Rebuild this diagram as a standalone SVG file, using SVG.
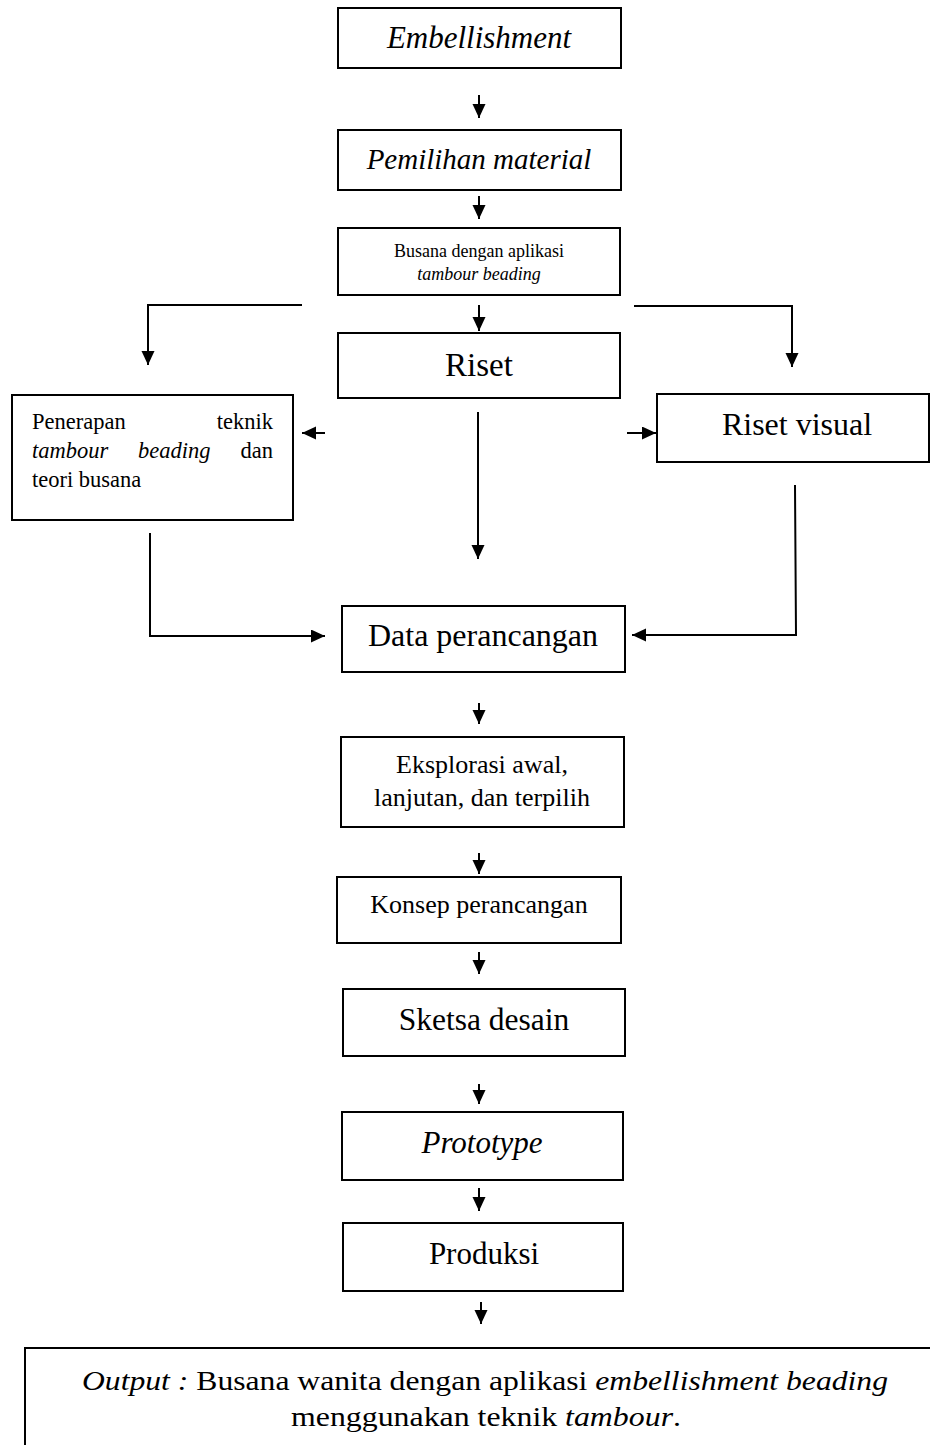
<svg xmlns="http://www.w3.org/2000/svg" width="930" height="1445" viewBox="0 0 930 1445">
<defs>
<style>
.box{fill:#fff;stroke:#000;stroke-width:2}
.t{font-family:"Liberation Serif","Times New Roman",serif;fill:#000}
.i{font-style:italic}
.c{stroke:#000;stroke-width:2;fill:none}
</style>
<marker id="ah" markerUnits="userSpaceOnUse" markerWidth="16" markerHeight="14" refX="14" refY="6.5" orient="auto">
<path d="M0,0 L14,6.5 L0,13 Z" fill="#000"/>
</marker>
</defs>
<rect width="930" height="1445" fill="#fff"/>
<g id="n-embellishment"><rect class="box" x="338" y="8" width="283" height="60"/><text class="t i" x="479" y="48" font-size="31" text-anchor="middle">Embellishment</text></g>
<g id="n-pemilihan"><rect class="box" x="338" y="130" width="283" height="60"/><text class="t i" x="479" y="169" font-size="29" text-anchor="middle">Pemilihan material</text></g>
<g id="n-busana"><rect class="box" x="338" y="228" width="282" height="67"/><text class="t" x="479" y="257" font-size="18" text-anchor="middle">Busana dengan aplikasi</text><text class="t i" x="479" y="280" font-size="18" text-anchor="middle">tambour beading</text></g>
<g id="n-riset"><rect class="box" x="338" y="333" width="282" height="65"/><text class="t" x="479" y="376" font-size="33" text-anchor="middle">Riset</text></g>
<g id="n-penerapan"><rect class="box" x="12" y="395" width="281" height="125"/>
<text class="t" font-size="22.5" y="429"><tspan x="32">Penerapan</tspan><tspan x="273" text-anchor="end">teknik</tspan></text>
<text class="t" font-size="22.5" y="458"><tspan class="i" x="32">tambour</tspan><tspan class="i" x="138">beading</tspan><tspan x="273" text-anchor="end">dan</tspan></text>
<text class="t" font-size="22.5" x="32" y="487">teori busana</text></g>
<g id="n-riset-visual"><rect class="box" x="657" y="394" width="272" height="68"/><text class="t" x="797" y="435" font-size="32" text-anchor="middle">Riset visual</text></g>
<g id="n-data"><rect class="box" x="342" y="606" width="283" height="66"/><text class="t" x="483" y="646" font-size="32" text-anchor="middle">Data perancangan</text></g>
<g id="n-eksplorasi"><rect class="box" x="341" y="737" width="283" height="90"/><text class="t" x="482" y="773" font-size="26" text-anchor="middle">Eksplorasi awal,</text><text class="t" x="482" y="806" font-size="26" text-anchor="middle">lanjutan, dan terpilih</text></g>
<g id="n-konsep"><rect class="box" x="337" y="877" width="284" height="66"/><text class="t" x="479" y="913" font-size="26" text-anchor="middle">Konsep perancangan</text></g>
<g id="n-sketsa"><rect class="box" x="343" y="989" width="282" height="67"/><text class="t" x="484" y="1030" font-size="31.5" text-anchor="middle">Sketsa desain</text></g>
<g id="n-prototype"><rect class="box" x="342" y="1112" width="281" height="68"/><text class="t i" x="482" y="1153" font-size="31" text-anchor="middle">Prototype</text></g>
<g id="n-produksi"><rect class="box" x="343" y="1223" width="280" height="68"/><text class="t" x="484" y="1264" font-size="31" text-anchor="middle">Produksi</text></g>
<g id="n-output"><rect class="box" x="25" y="1348" width="920" height="120"/>
<text class="t" font-size="28" x="82" y="1390" textLength="806" lengthAdjust="spacingAndGlyphs"><tspan class="i">Output :</tspan> Busana wanita dengan aplikasi <tspan class="i">embellishment beading</tspan></text>
<text class="t" font-size="28" x="291" y="1426" textLength="390" lengthAdjust="spacingAndGlyphs">menggunakan teknik <tspan class="i">tambour</tspan>.</text></g>
<g id="connectors">
<path class="c" d="M479,95 V118" marker-end="url(#ah)"/>
<path class="c" d="M479,196 V219" marker-end="url(#ah)"/>
<path class="c" d="M479,305 V331" marker-end="url(#ah)"/>
<path class="c" d="M302,305 H148 V365" marker-end="url(#ah)"/>
<path class="c" d="M634,306 H792 V367" marker-end="url(#ah)"/>
<path class="c" d="M325,433 H302" marker-end="url(#ah)"/>
<path class="c" d="M627,433 H656" marker-end="url(#ah)"/>
<path class="c" d="M478,412 V559" marker-end="url(#ah)"/>
<path class="c" d="M150,533 V636 H325" marker-end="url(#ah)"/>
<path class="c" d="M795,485 L796,635 H632" marker-end="url(#ah)"/>
<path class="c" d="M479,703 V724" marker-end="url(#ah)"/>
<path class="c" d="M479,853 V874" marker-end="url(#ah)"/>
<path class="c" d="M479,952 V974" marker-end="url(#ah)"/>
<path class="c" d="M479,1084 V1104" marker-end="url(#ah)"/>
<path class="c" d="M479,1188 V1211" marker-end="url(#ah)"/>
<path class="c" d="M481,1302 V1324" marker-end="url(#ah)"/>
</g>
</svg>
